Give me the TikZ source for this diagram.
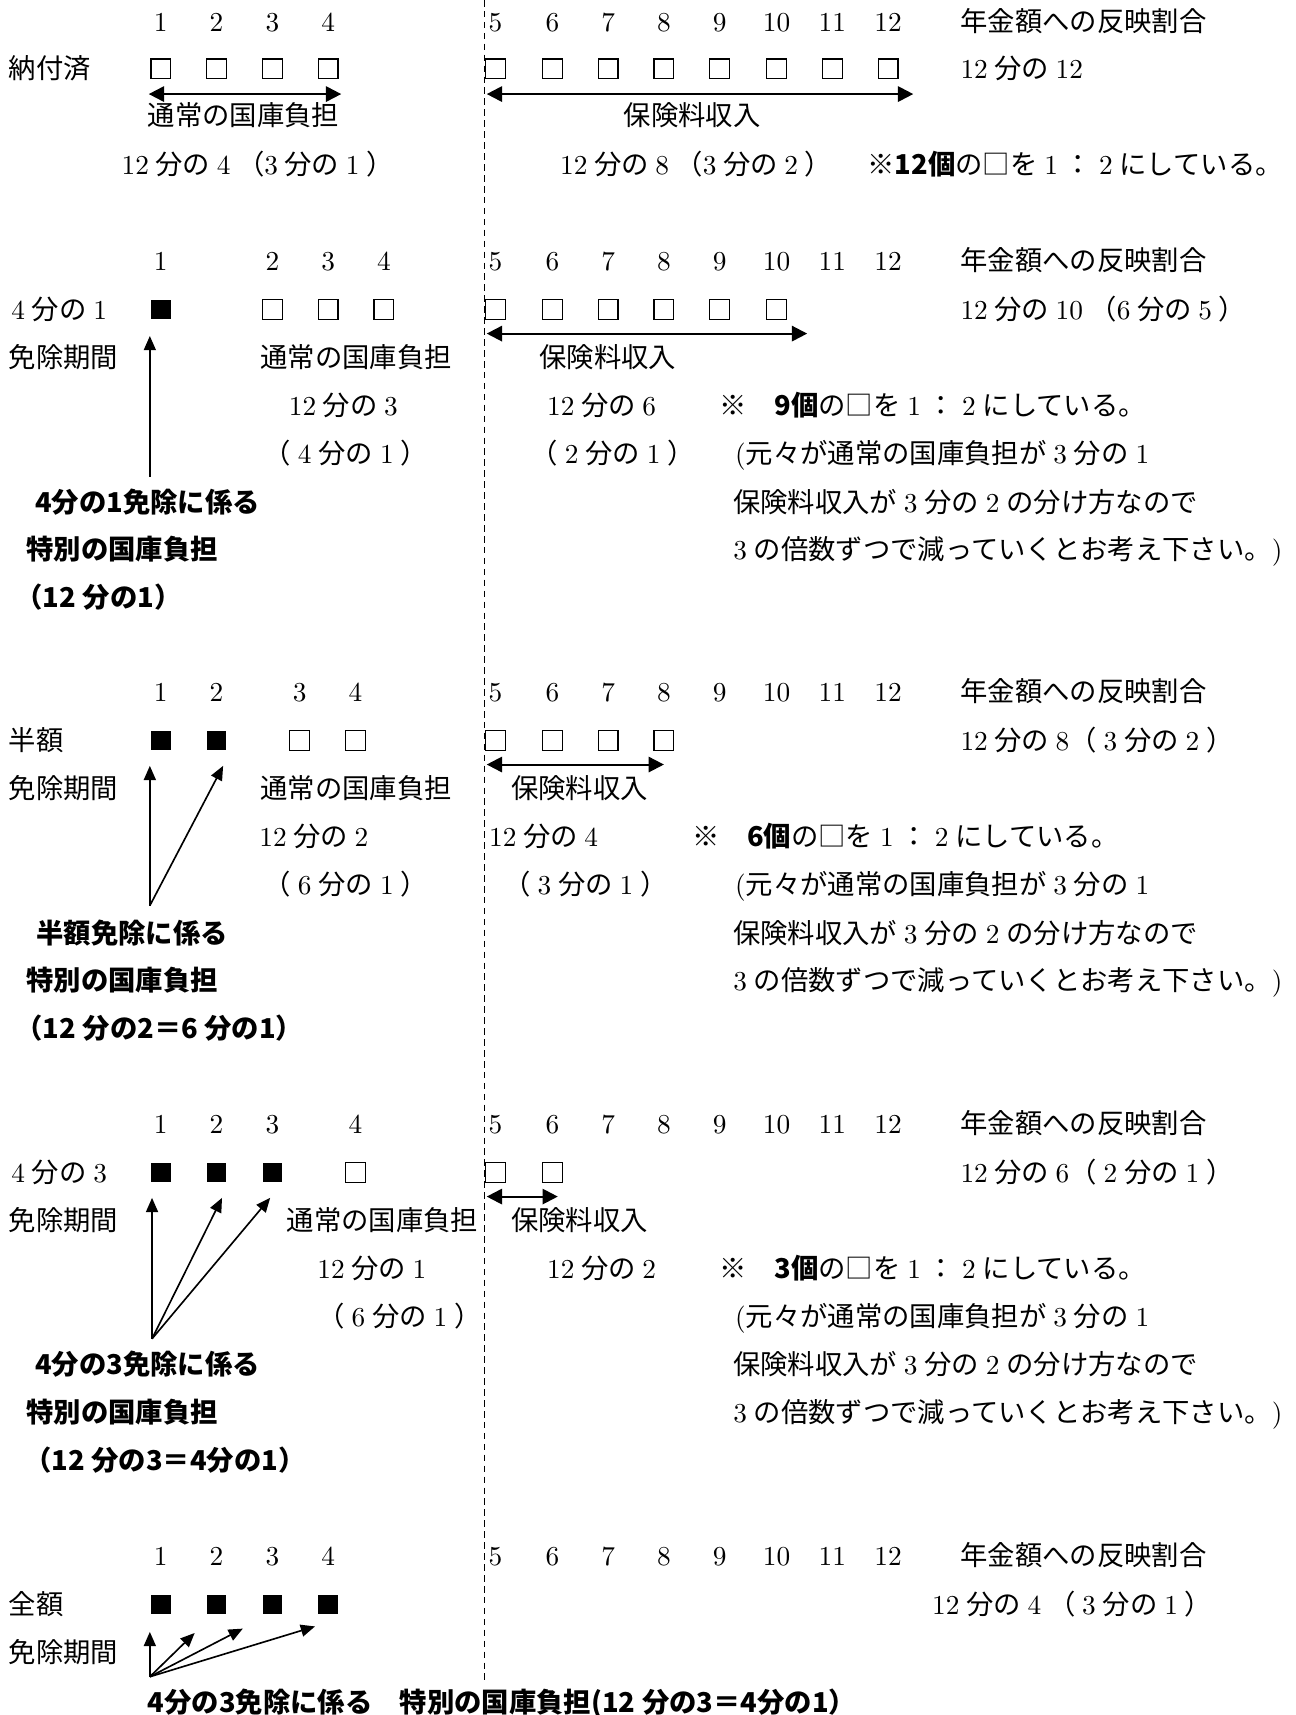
\documentclass[tikz,border=0pt]{standalone}
\usepackage{fontspec}
\setmainfont{lmroman10-regular.otf}[BoldFont=lmroman10-bold.otf]
\newfontfamily\cjk{Noto Sans CJK JP}
\usetikzlibrary{arrows.meta}
\newcount\cjkcc
\newXeTeXintercharclass\cjkcls
\newcommand\setcjkrange[2]{\cjkcc=#1\relax\loop\XeTeXcharclass\cjkcc=\cjkcls\relax\ifnum\cjkcc<#2\relax\advance\cjkcc by 1\relax\repeat}
\setcjkrange{"3000}{"30FF}
\setcjkrange{"4E00}{"9FFF}
\setcjkrange{"FF00}{"FFEF}
\XeTeXcharclass"203B=\cjkcls
\XeTeXcharclass"25A0=\cjkcls
\XeTeXcharclass"25A1=\cjkcls
\XeTeXinterchartoks 0 \cjkcls = {\cjk}
\XeTeXinterchartoks 4095 \cjkcls = {\cjk}
\XeTeXinterchartoks \cjkcls 0 = {\rmfamily}
\XeTeXinterchartoks \cjkcls 4095 = {\rmfamily}
\XeTeXinterchartokenstate=1
\newcommand\goth{\XeTeXinterchartokenstate=0 \cjk\bfseries}
\newcommand\fw[1]{\makebox[1em]{\rmfamily #1}}
\newcommand\gp{\hspace{6pt}}
\tikzset{
  txt/.style={inner sep=0pt, anchor=west, font=\fontsize{25}{30}\selectfont, text height=20pt, text depth=2.5pt},
  num/.style={txt, anchor=center},
  btxt/.style={txt, font=\fontsize{25}{30}\selectfont\goth},
  ebox/.style={draw, line width=1.1pt, minimum width=18pt, minimum height=18pt, inner sep=0pt},
  fbox/.style={fill=black, minimum width=18pt, minimum height=18pt, inner sep=0pt},
  dbl/.style={{Triangle[length=14pt,width=14pt]}-{Triangle[length=14pt,width=14pt]}, line width=1.9pt},
  uparr/.style={-{Triangle[length=13pt,width=11pt]}, line width=1.5pt},
  divider/.style={line width=1.4pt, dash pattern=on 6pt off 4pt}
}
\begin{document}
\begin{tikzpicture}[x=1pt,y=-1pt]
\useasboundingbox (0,0) rectangle (1184,1568);
% divider
\coordinate (dtop) at (443,0);
\coordinate (dbot) at (443,1536);
\draw[divider] (dtop) -- (dbot);

% ===== Section 1 =====
\foreach \x [count=\i] in {147,198,249,300,453,505,556,607,658,710,761,812}
  \node[num] (an\i) at (\x,20) {\i};
\node[txt] (ahead) at (878,20) {年金額への反映割合};
\node[txt] (alab) at (8,63) {納付済};
\foreach \x [count=\i] in {147,198,249,300,453,505,556,607,658,710,761,812}
  \node[ebox] (ab\i) at (\x,63) {};
\node[txt] (aratio) at (878,63) {12\gp 分の\gp 12};
\coordinate (aL1) at (136,86); \coordinate (aR1) at (312,86);
\coordinate (aL2) at (445,86); \coordinate (aR2) at (835,86);
\draw[dbl] (aL1) -- (aR1);
\draw[dbl] (aL2) -- (aR2);
\node[txt] (akoku) at (135,106) {通常の国庫負担};
\node[txt] (ahoken) at (570,106) {保険料収入};
\node[txt] (afr1) at (111,151) {12\gp 分の\gp 4\gp（3\gp 分の\gp 1\gp）};
\node[txt] (afr2) at (512,151) {12\gp 分の\gp 8\gp（3\gp 分の\gp 2\gp）};
\node[txt] (anote) at (793,151) {※{\goth 12個}の□を\fw{1}：\fw{2}にしている。};

% ===== Section 2 =====
\foreach \x [count=\i] in {147,249,300,351,453,505,556,607,658,710,761,812}
  \node[num] (bn\i) at (\x,239) {\i};
\node[txt] (bhead) at (878,239) {年金額への反映割合};
\node[txt] (blab) at (4,283) {\fw{4}分の\fw{1}};
\node[fbox] (bf1) at (147,283) {};
\foreach \x [count=\i] in {249,300,351,453,505,556,607,658,710}
  \node[ebox] (bb\i) at (\x,283) {};
\node[txt] (bratio) at (878,283) {12\gp 分の\gp 10\gp（6\gp 分の\gp 5\gp）};
\coordinate (bL) at (445,305); \coordinate (bR) at (738,305);
\draw[dbl] (bL) -- (bR);
\node[txt] (bmen) at (8,327) {免除期間};
\coordinate (bbase) at (137,436);
\draw[uparr] (bbase) -- ([xshift=-10pt,yshift=-15pt]bf1.south);
\node[txt] (bkoku) at (238,327) {通常の国庫負担};
\node[txt] (bhoken) at (493,327) {保険料収入};
\node[txt] (bk1) at (264,371) {12\gp 分の\gp 3};
\node[txt] (bh1) at (500,371) {12\gp 分の\gp 6};
\node[txt] (bnote) at (658,371) {※　{\goth 9個}の□を\fw{1}：\fw{2}にしている。};
\node[txt] (bk2) at (241,415) {（\fw{4}分の\fw{1}）};
\node[txt] (bh2) at (485,415) {（\fw{2}分の\fw{1}）};
\node[txt] (bnote2) at (672,415) {(元々が通常の国庫負担が\fw{3}分の\fw{1}};
\node[btxt] (bsp1) at (32,460) {4分の1免除に係る};
\node[txt] (bnote3) at (670,460) {保険料収入が\fw{3}分の\fw{2}の分け方なので};
\node[btxt] (bsp2) at (24,503) {特別の国庫負担};
\node[txt] (bnote4) at (664,503) {\fw{3}の倍数ずつで減っていくとお考え下さい。)};
\node[btxt] (bsp3) at (14,547) {（12\gp 分の1）};

% ===== Section 3 =====
\foreach \x [count=\i] in {147,198,274,325,453,505,556,607,658,710,761,812}
  \node[num] (cn\i) at (\x,633) {\i};
\node[txt] (chead) at (878,633) {年金額への反映割合};
\node[txt] (clab) at (8,677) {半額};
\node[fbox] (cf1) at (147,677) {};
\node[fbox] (cf2) at (198,677) {};
\foreach \x [count=\i] in {274,325,453,505,556,607}
  \node[ebox] (cb\i) at (\x,677) {};
\node[txt] (cratio) at (878,677) {12\gp 分の\gp 8（\fw{3}分の\fw{2}）};
\coordinate (cL) at (445,699); \coordinate (cR) at (607,699);
\draw[dbl] (cL) -- (cR);
\node[txt] (cmen) at (8,721) {免除期間};
\coordinate (cbase) at (137,828);
\draw[uparr] (cbase) -- ([xshift=-10pt,yshift=-14pt]cf1.south);
\draw[uparr] (cbase) -- ([xshift=6pt,yshift=-14pt]cf2.south);
\node[txt] (ckoku) at (238,721) {通常の国庫負担};
\node[txt] (choken) at (467,721) {保険料収入};
\node[txt] (ck1) at (237,765) {12\gp 分の\gp 2};
\node[txt] (ch1) at (447,765) {12\gp 分の\gp 4};
\node[txt] (cnote) at (633,765) {※　{\goth 6個}の□を\fw{1}：\fw{2}にしている。};
\node[txt] (ck2) at (241,809) {（\fw{6}分の\fw{1}）};
\node[txt] (ch2) at (460,809) {（\fw{3}分の\fw{1}）};
\node[txt] (cnote2) at (672,809) {(元々が通常の国庫負担が\fw{3}分の\fw{1}};
\node[btxt] (csp1) at (33,854) {半額免除に係る};
\node[txt] (cnote3) at (670,854) {保険料収入が\fw{3}分の\fw{2}の分け方なので};
\node[btxt] (csp2) at (24,897) {特別の国庫負担};
\node[txt] (cnote4) at (664,897) {\fw{3}の倍数ずつで減っていくとお考え下さい。)};
\node[btxt] (csp3) at (14,941) {（12\gp 分の2＝6\gp 分の1）};

% ===== Section 4 =====
\foreach \x [count=\i] in {147,198,249,325,453,505,556,607,658,710,761,812}
  \node[num] (dn\i) at (\x,1028) {\i};
\node[txt] (dhead) at (878,1028) {年金額への反映割合};
\node[txt] (dlab) at (4,1072) {\fw{4}分の\fw{3}};
\node[fbox] (df1) at (147,1072) {};
\node[fbox] (df2) at (198,1072) {};
\node[fbox] (df3) at (249,1072) {};
\foreach \x [count=\i] in {325,453,505}
  \node[ebox] (db\i) at (\x,1072) {};
\node[txt] (dratio) at (878,1072) {12\gp 分の\gp 6（\fw{2}分の\fw{1}）};
\coordinate (dL) at (445,1094); \coordinate (dR) at (510,1094);
\draw[dbl] (dL) -- (dR);
\node[txt] (dmen) at (8,1116) {免除期間};
\coordinate (dbase) at (139,1224);
\draw[uparr] (dbase) -- ([xshift=-8pt,yshift=-14pt]df1.south);
\draw[uparr] (dbase) -- ([xshift=5pt,yshift=-14pt]df2.south);
\draw[uparr] (dbase) -- ([xshift=-2pt,yshift=-14pt]df3.south);
\node[txt] (dkoku) at (262,1116) {通常の国庫負担};
\node[txt] (dhoken) at (467,1116) {保険料収入};
\node[txt] (dk1) at (290,1160) {12\gp 分の\gp 1};
\node[txt] (dh1) at (500,1160) {12\gp 分の\gp 2};
\node[txt] (dnote) at (658,1160) {※　{\goth 3個}の□を\fw{1}：\fw{2}にしている。};
\node[txt] (dk2) at (290,1204) {（\fw{6}分の\fw{1}）};
\node[txt] (dnote2) at (672,1204) {(元々が通常の国庫負担が\fw{3}分の\fw{1}};
\node[btxt] (dsp1) at (32,1248) {4分の3免除に係る};
\node[txt] (dnote3) at (670,1248) {保険料収入が\fw{3}分の\fw{2}の分け方なので};
\node[btxt] (dsp2) at (24,1292) {特別の国庫負担};
\node[txt] (dnote4) at (664,1292) {\fw{3}の倍数ずつで減っていくとお考え下さい。)};
\node[btxt] (dsp3) at (22,1336) {（12\gp 分の3＝4分の1）};

% ===== Section 5 =====
\foreach \x [count=\i] in {147,198,249,300,453,505,556,607,658,710,761,812}
  \node[num] (en\i) at (\x,1423) {\i};
\node[txt] (ehead) at (878,1423) {年金額への反映割合};
\node[txt] (elab) at (8,1467) {全額};
\foreach \x [count=\i] in {147,198,249,300}
  \node[fbox] (ef\i) at (\x,1467) {};
\node[txt] (eratio) at (852,1467) {12\gp 分の\fw{4}（\fw{3}分の\fw{1}）};
\node[txt] (emen) at (8,1511) {免除期間};
\coordinate (ebase) at (137,1533);
\coordinate (et1) at (137,1492);
\coordinate (et2) at (178,1493);
\coordinate (et3) at (222,1489);
\coordinate (et4) at (288,1487);
\foreach \k in {1,2,3,4} \draw[uparr] (ebase) -- (et\k);
\node[btxt] (ebottom) at (135,1557) {4分の3免除に係る　特別の国庫負担(12\gp 分の3＝4分の1）};
\end{tikzpicture}
\end{document}
